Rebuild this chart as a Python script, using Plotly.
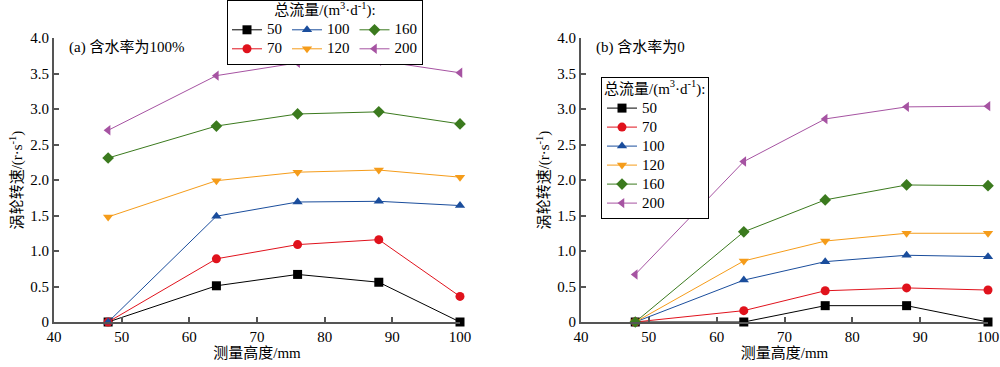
import plotly.graph_objects as go

heights = [48, 64, 76, 88, 100]
flows = ["50", "70", "100", "120", "160", "200"]
colors = ["#000000", "#e0121c", "#1a4d9c", "#f59c1a", "#3b7a1e", "#a653a2"]
symbols = ["square", "circle", "triangle-up", "triangle-down", "diamond", "triangle-left"]

# (a) water cut 100%
speed_a = {
    "50":  [0, 0.51, 0.67, 0.56, 0],
    "70":  [0, 0.89, 1.09, 1.16, 0.36],
    "100": [0, 1.49, 1.69, 1.70, 1.64],
    "120": [1.48, 1.99, 2.11, 2.14, 2.04],
    "160": [2.31, 2.76, 2.93, 2.96, 2.79],
    "200": [2.70, 3.47, 3.65, 3.68, 3.51],
}
# (b) water cut 0
speed_b = {
    "50":  [0, 0, 0.23, 0.23, 0],
    "70":  [0, 0.16, 0.44, 0.48, 0.45],
    "100": [0, 0.59, 0.85, 0.94, 0.92],
    "120": [0, 0.86, 1.14, 1.25, 1.25],
    "160": [0, 1.27, 1.72, 1.93, 1.92],
    "200": [0.67, 2.26, 2.86, 3.03, 3.04],
}

y_tickvals = [0, 0.5, 1.0, 1.5, 2.0, 2.5, 3.0, 3.5, 4.0]
y_ticktext = ["0", "0.5", "1.0", "1.5", "2.0", "2.5", "3.0", "3.5", "4.0"]
x_tickvals = [40, 50, 60, 70, 80, 90, 100]

FONT = "Liberation Serif, Noto Sans CJK SC, serif"
groups = ["g1", "g1", "g2", "g2", "g3", "g3"]

W, H = 1000, 367
def px(x):
    return x / W
def py(y):
    return 1 - y / H

def big(t):
    return '<span style="font-size:15px">' + t + '</span>'

LEG_TITLE = big("总流量/(m<sup>3</sup>·d<sup>-1</sup>):")

fig = go.Figure()
for i, f in enumerate(flows):
    fig.add_trace(go.Scatter(
        x=heights, y=speed_a[f], mode="lines+markers", name=big(f),
        line=dict(color=colors[i], width=1),
        marker=dict(symbol=symbols[i], size=9, color=colors[i]),
        xaxis="x", yaxis="y", legend="legend", legendgroup=groups[i],
        cliponaxis=False,
    ))
for i, f in enumerate(flows):
    fig.add_trace(go.Scatter(
        x=heights, y=speed_b[f], mode="lines+markers", name=big(f),
        line=dict(color=colors[i], width=1),
        marker=dict(symbol=symbols[i], size=9, color=colors[i]),
        xaxis="x2", yaxis="y2", legend="legend2",
        cliponaxis=False,
    ))

AX = "#555555"
xa = dict(range=[40, 100], tickvals=x_tickvals, ticks="inside", ticklen=5, tickcolor=AX,
          tickwidth=1.5,
          showline=True, linecolor=AX, linewidth=2, showgrid=False, zeroline=False,
          automargin=False, tickfont=dict(size=15, color="#000"),
          title=dict(text="测量高度/mm", font=dict(size=15, color="#000"), standoff=2))
ya = dict(range=[0, 4], tickvals=y_tickvals, ticktext=y_ticktext, ticks="inside", ticklen=5,
          tickcolor=AX, tickwidth=1.5,
          showline=True, linecolor=AX, linewidth=2, showgrid=False, zeroline=False,
          automargin=False, tickfont=dict(size=15, color="#000"),
          title=dict(text="涡轮转速/(r·s<sup>-1</sup>)", font=dict(size=15, color="#000"), standoff=4))

fig.update_layout(
    width=W, height=H,
    margin=dict(l=0, r=0, t=0, b=0),
    paper_bgcolor="white", plot_bgcolor="white",
    font=dict(family=FONT, size=15, color="#000"),
    xaxis=dict(xa, domain=[px(54), px(460)], anchor="y"),
    yaxis=dict(ya, domain=[py(322), py(38)], anchor="x"),
    xaxis2=dict(xa, domain=[px(581), px(988)], anchor="y2"),
    yaxis2=dict(ya, domain=[py(322), py(38)], anchor="x2"),
    legend=dict(
        orientation="h", x=px(227), xanchor="left", y=1, yanchor="top",
        bordercolor="#000", borderwidth=1, bgcolor="white",
        title=dict(text=LEG_TITLE, side="top center", font=dict(size=11)),
        font=dict(size=12), tracegroupgap=15, itemwidth=30,
    ),
    legend2=dict(
        orientation="v", x=px(601), xanchor="left", y=py(77), yanchor="top",
        bordercolor="#000", borderwidth=1, bgcolor="white",
        title=dict(text=LEG_TITLE, side="top", font=dict(size=12)),
        font=dict(size=12), tracegroupgap=0, itemwidth=30,
    ),
    showlegend=True,
)

fig.add_annotation(x=px(67), y=py(47), xref="paper", yref="paper",
                   text="(a) 含水率为100%", showarrow=False, xanchor="left", yanchor="middle",
                   font=dict(size=15))
fig.add_annotation(x=px(594), y=py(47), xref="paper", yref="paper",
                   text="(b) 含水率为0", showarrow=False, xanchor="left", yanchor="middle",
                   font=dict(size=15))

fig.write_html("out.html", config={"displayModeBar": False},
               post_script="document.body.style.margin='0';document.body.style.overflow='hidden';")
